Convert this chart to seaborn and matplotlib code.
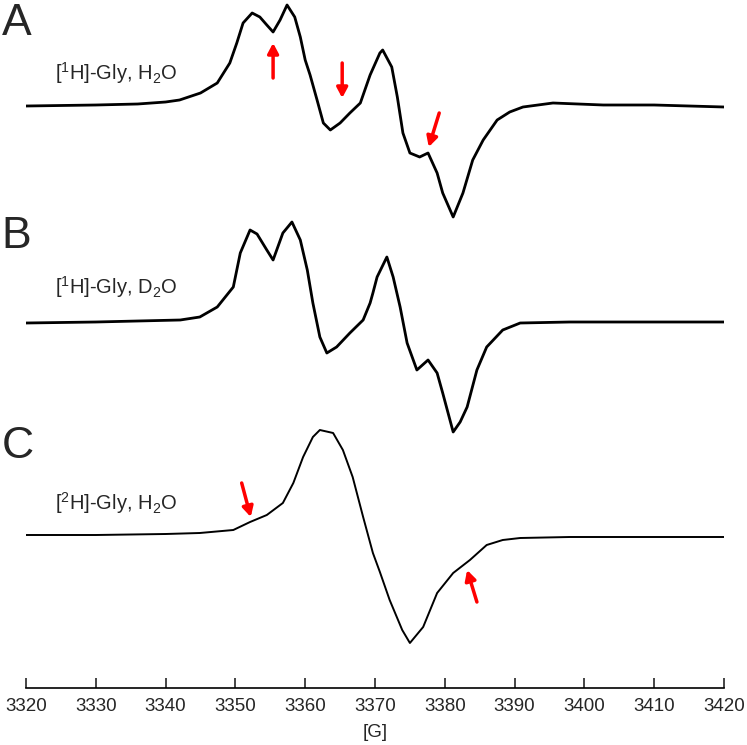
import matplotlib
matplotlib.use("Agg")
import matplotlib.pyplot as plt
import seaborn as sns

sns.set_style("white")
plt.rcParams["font.family"] = ["Liberation Sans", "DejaVu Sans"]
plt.rcParams["mathtext.default"] = "regular"

# spectrum A: [1H]-Gly in H2O  (field in G, signal in arbitrary units)
a_field = [3320, 3330, 3336, 3340, 3342, 3345, 3347.4, 3349.2, 3350.2, 3351.1,
           3352.4, 3353.5, 3354.5, 3355.4, 3356.4, 3357.4, 3358.5, 3359.3, 3360.0,
           3360.7, 3361.7, 3362.6, 3363.6, 3365.0, 3366.4, 3367.9, 3369.3, 3370.7,
           3371.1, 3372.4, 3373.2, 3374.0, 3375.0, 3376.4, 3377.6, 3378.9, 3379.7,
           3381.2, 3382.6, 3384.0, 3385.5, 3387.5, 3389.3, 3391.2, 3395.5, 3402.7,
           3410, 3420]
a_signal = [-1, 0, 1, 3, 5, 12, 22, 42, 62, 82,
            92, 88, 80, 73, 85, 100, 88, 68, 45,
            30, 5, -18, -25, -18, -8, 2, 30, 52,
            55, 38, 8, -28, -48, -52, -48, -68, -88,
            -112, -88, -55, -35, -15, -7, -2, 2, 0,
            0, -2]

# spectrum B: [1H]-Gly in D2O
b_field = [3320, 3330, 3336, 3342.1, 3344.9, 3347.4, 3349.7, 3350.7, 3352.1, 3353.1,
           3354.5, 3355.4, 3356.8, 3358.1, 3359.3, 3360.3, 3361.1, 3362.1, 3363.1,
           3364.5, 3366.4, 3368.3, 3369.3, 3369.7, 3370.3, 3371.7, 3372.6, 3373.6,
           3374.6, 3376.0, 3377.6, 3378.9, 3379.7, 3381.2, 3382.2, 3383.2, 3384.6,
           3386.0, 3388.3, 3390.8, 3397.9, 3420]
b_signal = [-1, 0, 1, 2, 5, 15, 35, 69, 92, 88,
            72, 62, 89, 100, 82, 52, 19, -15, -31,
            -25, -11, 2, 19, 29, 45, 65, 45, 15,
            -21, -48, -38, -51, -71, -110, -100, -85, -48,
            -25, -8, -1, 0, 0]

# spectrum C: [2H]-Gly in H2O
c_field = [3320, 3330, 3340, 3344.9, 3349.7, 3352.1, 3354.5, 3356.8, 3358.3, 3359.7,
           3361.1, 3362.1, 3364.0, 3365.4, 3366.8, 3368.3, 3369.7, 3370.7, 3372.1,
           3373.9, 3375.0, 3376.9, 3378.9, 3381.2, 3383.6, 3386.0, 3388.3, 3390.8,
           3397.9, 3420]
c_signal = [1, 1, 2, 3, 6, 14, 21, 33, 53, 79,
            99, 106, 103, 86, 59, 19, -17, -36, -64,
            -94, -107, -91, -57, -37, -24, -9, -4, -2,
            -1, -1]

letters = ["A", "B", "C"]
names = [r"[$^{1}$H]-Gly, H$_2$O", r"[$^{1}$H]-Gly, D$_2$O", r"[$^{2}$H]-Gly, H$_2$O"]
ticks = list(range(3320, 3421, 10))

fig = plt.figure(figsize=(7.47, 7.45), dpi=100)
ax = fig.add_axes([26 / 747, 57 / 745, 698 / 747, 688 / 745])

# vertical offsets for stacking
offsets = [583, 366, 152]
traces = [(a_field, a_signal), (b_field, b_signal), (c_field, c_signal)]
widths = [2.0, 2.0, 1.4]
for (fx, sy), off, w in zip(traces, offsets, widths):
    sns.lineplot(x=fx, y=[v + off for v in sy], ax=ax, color="black",
                 linewidth=w, sort=False, estimator=None)

# red arrows marking the features
arrows = [((3355.4, 645), (3355.4, 610)),
          ((3365.3, 590), (3365.3, 625)),
          ((3377.7, 541), (3379.2, 575)),
          ((3352.2, 171), (3350.9, 205)),
          ((3383.2, 118), (3384.6, 86))]
for tip, tail in arrows:
    ax.annotate("", xy=tip, xytext=tail,
                arrowprops=dict(arrowstyle="-|>,head_length=0.6,head_width=0.32",
                                color="red", lw=2.5, shrinkA=0, shrinkB=0))

ax.set_xlim(3320, 3420)
ax.set_ylim(0, 688)
ax.set_xticks(ticks)
ax.set_xticklabels([str(t) for t in ticks], fontsize=13.5)
ax.set_yticks([])
ax.tick_params(axis="x", direction="in", length=7, width=1.2, pad=7, bottom=True)
for s in ["top", "left", "right"]:
    ax.spines[s].set_visible(False)
ax.spines["bottom"].set_linewidth(1.2)
ax.spines["bottom"].set_color("black")
ax.set_xlabel("[G]", fontsize=13.5, labelpad=7)
ax.set_ylabel("")

for letter, y in zip(letters, [0.968, 0.682, 0.400]):
    fig.text(0.002, y, letter, fontsize=32, ha="left", va="center")
for name, y in zip(names, [0.8926, 0.6054, 0.3154]):
    fig.text(55 / 747, y, name, fontsize=14.5, ha="left", va="baseline")

fig.savefig("out.png", dpi=100)
